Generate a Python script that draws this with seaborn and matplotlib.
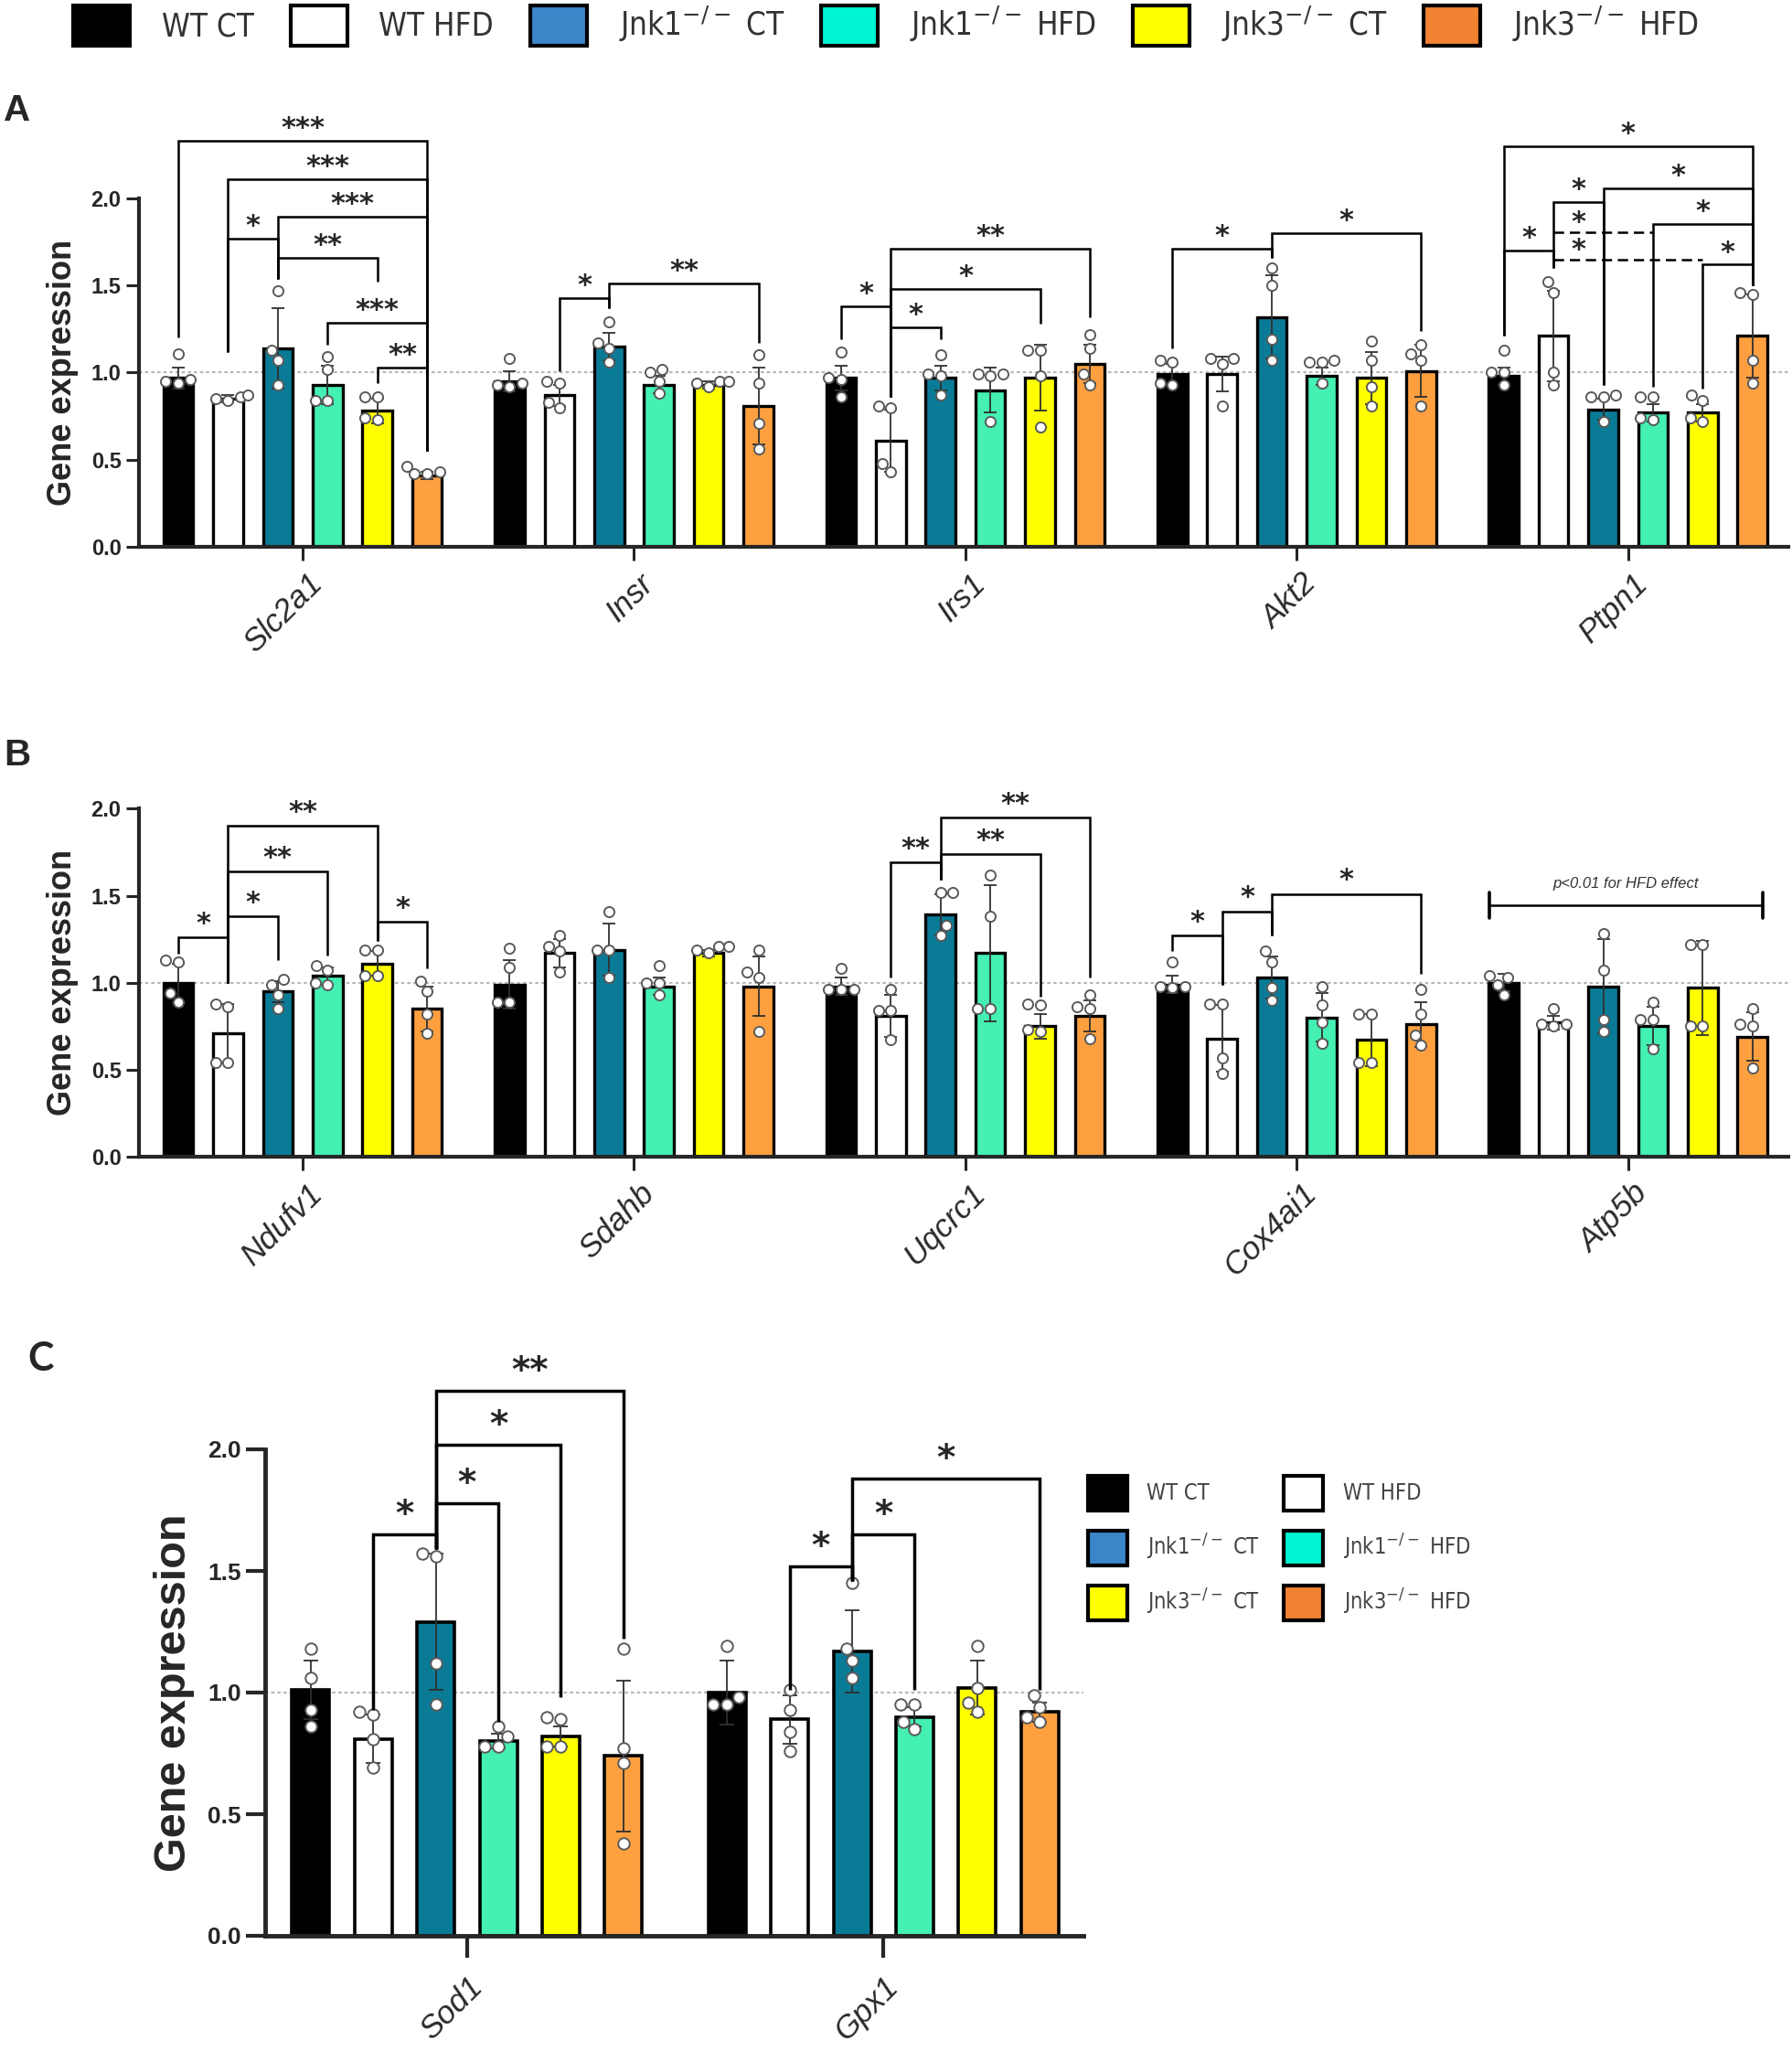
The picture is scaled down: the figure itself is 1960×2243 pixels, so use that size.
import numpy as np
import pandas as pd
import matplotlib
matplotlib.use("Agg")
import matplotlib.pyplot as plt
import seaborn as sns
from matplotlib.patches import Patch
from matplotlib.transforms import ScaledTranslation
from matplotlib.font_manager import FontProperties, fontManager
from matplotlib.textpath import TextPath

# ---------------------------------------------------------------- data
groups = ['WT CT', 'WT HFD', 'Jnk1 CT', 'Jnk1 HFD', 'Jnk3 CT', 'Jnk3 HFD']
group_labels = ['WT CT', 'WT HFD', 'Jnk1$^{-/-}$ CT', 'Jnk1$^{-/-}$ HFD',
                'Jnk3$^{-/-}$ CT', 'Jnk3$^{-/-}$ HFD']

genes_A = ['Slc2a1', 'Insr', 'Irs1', 'Akt2', 'Ptpn1']
means_A = [
    [0.97, 0.85, 1.14, 0.93, 0.78, 0.41],
    [0.95, 0.87, 1.15, 0.93, 0.93, 0.81],
    [0.97, 0.61, 0.97, 0.90, 0.97, 1.05],
    [0.99, 0.99, 1.32, 0.98, 0.97, 1.01],
    [0.98, 1.21, 0.79, 0.77, 0.77, 1.21]]
sds_A = [
    [0.06, 0.02, 0.23, 0.11, 0.07, 0.02],
    [0.06, 0.06, 0.08, 0.05, 0.02, 0.22],
    [0.07, 0.18, 0.07, 0.13, 0.19, 0.11],
    [0.06, 0.10, 0.24, 0.05, 0.15, 0.15],
    [0.05, 0.26, 0.06, 0.05, 0.05, 0.24]]
points_A = [
    [[1.11, 0.95, 0.96, 0.94], [0.86, 0.84, 0.87, 0.85], [1.47, 1.13, 1.07, 0.93],
     [1.09, 1.02, 0.84, 0.84], [0.86, 0.86, 0.73, 0.74], [0.46, 0.42, 0.43, 0.42]],
    [[1.08, 0.94, 0.93, 0.92], [0.94, 0.95, 0.80, 0.83], [1.29, 1.17, 1.14, 1.06],
     [1.00, 1.02, 0.95, 0.88], [0.95, 0.94, 0.95, 0.92], [1.10, 0.94, 0.71, 0.56]],
    [[1.12, 0.97, 0.96, 0.86], [0.80, 0.81, 0.48, 0.43], [1.10, 0.99, 0.98, 0.87],
     [0.99, 0.99, 0.98, 0.72], [1.13, 1.13, 0.98, 0.69], [1.22, 1.14, 0.99, 0.93]],
    [[1.07, 1.06, 0.94, 0.93], [1.08, 1.08, 1.05, 0.81], [1.60, 1.50, 1.19, 1.07],
     [1.06, 1.06, 1.07, 0.94], [1.18, 1.07, 0.92, 0.81], [1.16, 1.11, 1.07, 0.81]],
    [[1.13, 1.00, 1.00, 0.93], [1.52, 1.46, 1.00, 0.93], [0.87, 0.86, 0.86, 0.72],
     [0.86, 0.86, 0.73, 0.74], [0.87, 0.84, 0.72, 0.74], [1.46, 1.45, 1.07, 0.94]]]

genes_B = ['Ndufv1', 'Sdahb', 'Uqcrc1', 'Cox4ai1', 'Atp5b']
means_B = [
    [1.00, 0.71, 0.95, 1.04, 1.11, 0.85],
    [0.99, 1.17, 1.19, 0.98, 1.17, 0.98],
    [0.98, 0.81, 1.39, 1.17, 0.75, 0.81],
    [0.99, 0.68, 1.03, 0.80, 0.67, 0.76],
    [1.00, 0.77, 0.98, 0.75, 0.97, 0.69]]
sds_B = [
    [0.11, 0.17, 0.06, 0.05, 0.07, 0.13],
    [0.14, 0.08, 0.15, 0.05, 0.02, 0.17],
    [0.05, 0.12, 0.12, 0.39, 0.07, 0.09],
    [0.05, 0.19, 0.12, 0.14, 0.15, 0.13],
    [0.05, 0.04, 0.27, 0.11, 0.27, 0.14]]
points_B = [
    [[1.12, 1.13, 0.94, 0.89], [0.86, 0.88, 0.54, 0.54], [1.02, 0.99, 0.93, 0.85],
     [1.10, 1.07, 1.00, 0.99], [1.19, 1.19, 1.04, 1.04], [1.01, 0.95, 0.82, 0.71]],
    [[1.20, 1.09, 0.89, 0.89], [1.27, 1.21, 1.18, 1.06], [1.41, 1.19, 1.19, 1.03],
     [1.10, 1.00, 1.00, 0.93], [1.21, 1.21, 1.19, 1.17], [1.19, 1.06, 1.03, 0.72]],
    [[1.08, 0.96, 0.96, 0.96], [0.96, 0.84, 0.84, 0.67], [1.52, 1.52, 1.33, 1.27],
     [1.62, 1.38, 0.85, 0.85], [0.88, 0.87, 0.73, 0.72], [0.93, 0.86, 0.85, 0.68]],
    [[1.12, 0.98, 0.97, 0.98], [0.88, 0.88, 0.57, 0.48], [1.18, 1.12, 0.97, 0.90],
     [0.98, 0.87, 0.77, 0.65], [0.82, 0.82, 0.54, 0.54], [0.96, 0.82, 0.70, 0.64]],
    [[1.04, 1.03, 0.99, 0.93], [0.85, 0.76, 0.76, 0.75], [1.28, 1.07, 0.79, 0.72],
     [0.89, 0.79, 0.79, 0.62], [1.22, 1.22, 0.75, 0.75], [0.85, 0.76, 0.75, 0.51]]]

genes_C = ['Sod1', 'Gpx1']
means_C = [
    [1.01, 0.81, 1.29, 0.80, 0.82, 0.74],
    [1.00, 0.89, 1.17, 0.90, 1.02, 0.92]]
sds_C = [
    [0.12, 0.10, 0.28, 0.03, 0.04, 0.31],
    [0.13, 0.10, 0.17, 0.04, 0.11, 0.04]]
points_C = [
    [[1.18, 1.06, 0.93, 0.86], [0.92, 0.91, 0.81, 0.69], [1.57, 1.56, 1.12, 0.95],
     [0.86, 0.82, 0.78, 0.78], [0.90, 0.89, 0.78, 0.78], [1.18, 0.77, 0.71, 0.38]],
    [[1.19, 0.98, 0.95, 0.95], [1.01, 0.93, 0.84, 0.76], [1.45, 1.18, 1.13, 1.06],
     [0.95, 0.95, 0.88, 0.85], [1.19, 1.02, 0.96, 0.92], [0.99, 0.94, 0.90, 0.88]]]

ytick_vals = [0.0, 0.5, 1.0, 1.5, 2.0]
ytick_labels = ['0.0', '0.5', '1.0', '1.5', '2.0']
hfd_note = 'p<0.01 for HFD effect'

# significance brackets: (gene, group a, group b, bar height, leg a end, leg b end, label)
brackets_A = [
    (0, 0, 5, 2.33, 1.20, 0.55, '***'), (0, 1, 5, 2.11, 1.12, 0.55, '***'),
    (0, 2, 5, 1.895, 1.54, 0.55, '***'), (0, 1, 2, 1.77, 1.12, 1.54, '*'),
    (0, 2, 4, 1.66, 1.54, 1.52, '**'), (0, 3, 5, 1.285, 1.16, 0.55, '***'),
    (0, 4, 5, 1.03, 0.94, 0.55, '**'),
    (1, 1, 2, 1.43, 1.01, 1.37, '*'), (1, 2, 5, 1.51, 1.37, 1.17, '**'),
    (2, 0, 1, 1.38, 1.19, 0.86, '*'), (2, 1, 2, 1.26, 0.86, 1.19, '*'),
    (2, 1, 4, 1.48, 0.86, 1.28, '*'), (2, 1, 5, 1.71, 0.86, 1.32, '**'),
    (3, 0, 2, 1.71, 1.14, 1.66, '*'), (3, 2, 5, 1.80, 1.66, 1.24, '*'),
    (4, 0, 5, 2.30, 1.21, 1.50, '*'), (4, 0, 1, 1.70, 1.21, 1.60, '*'),
    (4, 1, 2, 1.98, 1.60, 0.93, '*'), (4, 2, 5, 2.06, 0.93, 1.50, '*'),
    (4, 3, 5, 1.855, 0.92, 1.50, '*'), (4, 4, 5, 1.62, 0.91, 1.50, '*')]
dashed_A = [(4, 1, 3, 1.807, '*', 1.5), (4, 1, 4, 1.65, '*', 1.5)]
brackets_B = [
    (0, 0, 1, 1.26, 1.165, 1.00, '*'), (0, 1, 2, 1.38, 1.00, 1.13, '*'),
    (0, 1, 3, 1.64, 1.00, 1.155, '**'), (0, 1, 4, 1.90, 1.00, 1.24, '**'),
    (0, 4, 5, 1.35, 1.24, 1.085, '*'),
    (2, 1, 2, 1.69, 1.03, 1.59, '**'), (2, 2, 4, 1.74, 1.59, 0.92, '**'),
    (2, 2, 5, 1.95, 1.59, 1.03, '**'),
    (3, 0, 1, 1.27, 1.18, 0.99, '*'), (3, 1, 2, 1.41, 0.99, 1.27, '*'),
    (3, 2, 5, 1.51, 1.27, 1.05, '*')]
brackets_C = [
    (0, 1, 2, 1.65, 0.93, 1.59, '*'), (0, 2, 3, 1.78, 1.59, 0.88, '*'),
    (0, 2, 4, 2.02, 1.59, 0.98, '*'), (0, 2, 5, 2.24, 1.59, 1.22, '**'),
    (1, 1, 2, 1.52, 1.01, 1.46, '*'), (1, 2, 3, 1.65, 1.46, 1.01, '*'),
    (1, 2, 5, 1.88, 1.46, 1.01, '*')]

# ---------------------------------------------------------------- style
sns.set_style('ticks')
plt.rcParams['font.family'] = ['Liberation Sans', 'DejaVu Sans']
plt.rcParams['mathtext.fontset'] = 'dejavusans'

bar_colors = {'WT CT': '#000000', 'WT HFD': '#ffffff', 'Jnk1 CT': '#0a7b96',
              'Jnk1 HFD': '#44f0b2', 'Jnk3 CT': '#ffff00', 'Jnk3 HFD': '#ffa040'}
legend_colors = {'WT CT': '#000000', 'WT HFD': '#ffffff', 'Jnk1 CT': '#3a86c8',
                 'Jnk1 HFD': '#00f5d2', 'Jnk3 CT': '#ffff00', 'Jnk3 HFD': '#f08232'}

avail = {f.name for f in fontManager.ttflist}
if 'Liberation Sans Narrow' in avail:
    leg_fp = FontProperties(family='Liberation Sans Narrow')
else:
    leg_fp = FontProperties(family='DejaVu Sans', stretch='condensed')
c_font = 'Lato' if 'Lato' in avail else 'Liberation Sans'

W, H, DPI = 1960, 2243, 100
G = 6.66  # distance between gene groups, in bar slots


def fit_size(text, fp, target_px):
    f = fp.copy()
    f.set_size(100)
    ext = TextPath((0, 0), text, prop=f).get_extents()
    return 100 * target_px / (ext.width * DPI / 72)


def frames(genes, means, sds, points):
    bars, pts = [], []
    for gi, gene in enumerate(genes):
        for hi, grp in enumerate(groups):
            pos = gi * G + hi
            bars.append(dict(gene=gene, group=grp, pos=pos,
                             mean=means[gi][hi], sd=sds[gi][hi]))
            for v in points[gi][hi]:
                pts.append(dict(gene=gene, group=grp, pos=pos, value=v))
    return pd.DataFrame(bars), pd.DataFrame(pts)


def draw_panel(ax, genes, means, sds, points, ytop, xlim, s):
    bdf, pdf = frames(genes, means, sds, points)
    ax.axhline(1.0, color='#b8b8b8', lw=1.6, ls=(0, (1.6, 1.4)), zorder=0.5)
    sns.barplot(data=bdf, x='pos', y='mean', hue='group', hue_order=groups,
                palette=bar_colors, saturation=1, native_scale=True, dodge=False,
                orient='x', width=0.6, edgecolor='black', linewidth=s['bar_lw'],
                errorbar=None, legend=False, ax=ax, zorder=2)
    ax.errorbar(bdf['pos'], bdf['mean'], yerr=bdf['sd'], fmt='none',
                ecolor='#303030', elinewidth=1.3, capsize=s['cap'],
                capthick=1.3, zorder=3)
    sns.swarmplot(data=pdf, x='pos', y='value', native_scale=True, orient='x',
                  color='white', edgecolor='#5a5a5a', linewidth=1.4,
                  size=s['pt'], ax=ax, zorder=4, legend=False)
    ax.set_xlim(*xlim)
    ax.set_ylim(0, ytop)
    ax.set_xlabel('')
    ax.set_ylabel('')
    sns.despine(ax=ax)
    for sp in ['left', 'bottom']:
        ax.spines[sp].set_linewidth(s['spine'])
    ax.spines['left'].set_bounds(0, 2)
    ax.set_yticks(ytick_vals)
    ax.set_yticklabels(ytick_labels, fontsize=s['ytfs'], fontweight='bold')
    ax.set_xticks([gi * G + 2.5 for gi in range(len(genes))])
    ax.set_xticklabels(genes, rotation=45, ha='right', va='top',
                       rotation_mode='anchor', fontstyle='italic',
                       fontsize=25, color='#2a2a2a')
    ax.tick_params(axis='y', length=s['tl'], width=s['tw'], pad=4)
    ax.tick_params(axis='x', length=s['tlx'], width=s['tw'], pad=s['xpad'])
    for lab in ax.get_xticklabels():
        lab.set_transform(lab.get_transform() +
                          ScaledTranslation(s['xdx'] / DPI, 0, ax.figure.dpi_scale_trans))
    ax.set_facecolor('none')


def draw_brackets(ax, specs, fs, off, lw):
    for gi, h1, h2, y, y1, y2, txt in specs:
        x1, x2 = gi * G + h1, gi * G + h2
        ax.plot([x1, x1, x2, x2], [y1, y, y, y2], color='black', lw=lw,
                solid_joinstyle='miter', solid_capstyle='butt', zorder=5,
                clip_on=False)
        ax.annotate(txt, ((x1 + x2) / 2, y), xytext=(0, off),
                    textcoords='offset points', ha='center', va='baseline',
                    fontsize=fs, fontweight='bold', family='DejaVu Sans',
                    zorder=6, annotation_clip=False)


def draw_dashed(ax, specs, fs, off, lw):
    for gi, h1, h2, y, txt, th in specs:
        ax.plot([gi * G + h1, gi * G + h2], [y, y], color='black', lw=lw,
                ls=(0, (4.5, 2.5)), zorder=5)
        ax.annotate(txt, (gi * G + th, y), xytext=(0, off),
                    textcoords='offset points', ha='center', va='baseline',
                    fontsize=fs, fontweight='bold', family='DejaVu Sans',
                    zorder=6, annotation_clip=False)


fig = plt.figure(figsize=(W / DPI, H / DPI), dpi=DPI)
fig.patch.set_facecolor('white')

style_AB = dict(bar_lw=2.4, cap=5, pt=8, spine=3.0, ytfs=17, tl=10, tlx=11,
                tw=2.2, xpad=6, xdx=5)
style_C = dict(bar_lw=2.6, cap=6, pt=9, spine=3.5, ytfs=19, tl=15, tlx=17,
               tw=3.0, xpad=11, xdx=0)

xlim_AB = (-0.79, 4 * G + 2.5 + 3.22)
axA = fig.add_axes([152 / W, 1 - 598 / H, (1956 - 152) / W, 478 / H])
draw_panel(axA, genes_A, means_A, sds_A, points_A, 478 / 190.5, xlim_AB, style_AB)
draw_brackets(axA, brackets_A, 22, 3.5, 1.8)
draw_dashed(axA, dashed_A, 22, 1.5, 1.8)

axB = fig.add_axes([152 / W, 1 - 1265 / H, (1956 - 152) / W, 420 / H])
draw_panel(axB, genes_B, means_B, sds_B, points_B, 420 / 190.3, xlim_AB, style_AB)
draw_brackets(axB, brackets_B, 22, 4.5, 1.8)
# HFD-effect bar over Atp5b
gx = 4 * G
axB.plot([gx - 0.28, gx + 5.2], [1.445, 1.445], color='black', lw=1.8, zorder=5)
for xe in (gx - 0.28, gx + 5.2):
    axB.plot([xe, xe], [1.37, 1.52], color='black', lw=2.6, zorder=5)
axB.text(gx + 2.45, 1.57, hfd_note, ha='center', va='center', fontsize=12,
         fontstyle='italic', color='#333333')

axC = fig.add_axes([290 / W, 1 - 2117 / H, (1185 - 290) / W, 647 / H])
draw_panel(axC, genes_C, means_C, sds_C, points_C, 647 / 266,
           (-0.73, G + 2.5 + 3.2), style_C)
draw_brackets(axC, brackets_C, 28, 7, 2.5)

# axis titles
for ax, xc, fs in ((axA, 69, 26), (axB, 69, 26), (axC, 190, 35)):
    x0 = ax.get_position().x0 * W
    x1 = ax.get_position().x1 * W
    ax.set_ylabel('Gene expression', fontsize=fs, fontweight='bold')
    ax.yaxis.label.set_va('center')
    ax.yaxis.set_label_coords((xc - x0) / (x1 - x0), 1.0 / ax.get_ylim()[1])

# panel letters
fig.text(4 / W, 1 - 121 / H, 'A', fontsize=29, fontweight='bold', ha='left', va='center')
fig.text(4 / W, 1 - 826 / H, 'B', fontsize=29, fontweight='bold', ha='left', va='center')
fig.text(30 / W, 1 - 1486 / H, 'C', fontsize=31, fontweight='bold', ha='left',
         va='center', family=c_font)

# legends
def handles():
    return [Patch(facecolor=legend_colors[g], edgecolor='black', linewidth=3.0,
                  label=lab) for g, lab in zip(groups, group_labels)]

top_fs = fit_size('WT CT', leg_fp, 100)
fp_top = leg_fp.copy(); fp_top.set_size(top_fs)
fig.legend(handles=handles(), loc='upper left', bbox_to_anchor=(80 / W, 1 - 5 / H),
           ncol=6, frameon=False, prop=fp_top, handlelength=62 / (top_fs * DPI / 72),
           handleheight=1.55, handletextpad=1.0, columnspacing=1.15,
           borderpad=0, borderaxespad=0, labelcolor='#333333')

c_fs = fit_size('WT CT', leg_fp, 68)
c_px = c_fs * DPI / 72
fp_c = leg_fp.copy(); fp_c.set_size(c_fs)
hs = handles()
order = [0, 2, 4, 1, 3, 5]
hh = (38 / c_px - 0.245) / 0.65
fig.legend(handles=[hs[i] for i in order], loc='upper left',
           bbox_to_anchor=(1190 / W, 1 - 1614 / H), ncol=2, frameon=False,
           prop=fp_c, handlelength=43 / c_px, handleheight=hh,
           handletextpad=0.9, columnspacing=1.1, labelspacing=(60 - 38) / c_px,
           borderpad=0, borderaxespad=0, labelcolor='#444444')

fig.savefig('out.png', dpi=DPI, facecolor='white')
